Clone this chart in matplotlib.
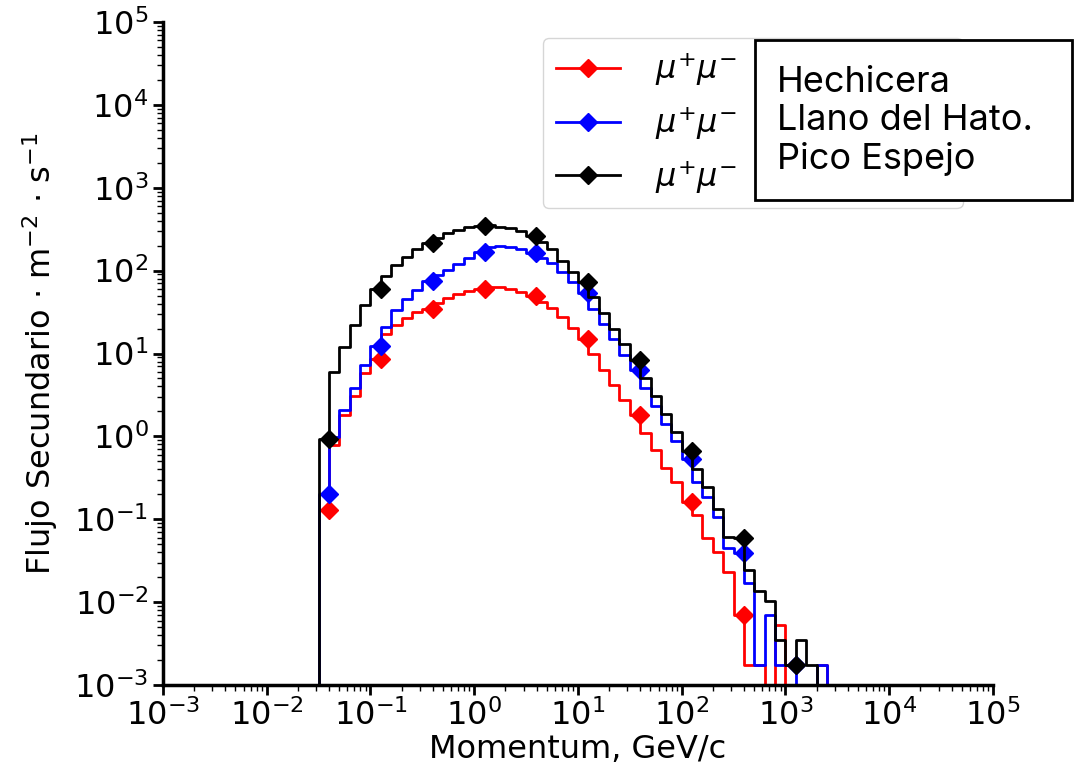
import matplotlib
matplotlib.use('Agg')
import matplotlib.pyplot as plt
import numpy as np

# momentum bin edges (GeV/c), 10 bins per decade starting at 10^-1.5
momentum = np.logspace(-1.5, 3.5, 51)

flux_hechicera = [0, 0.13, 0.79, 1.8, 3.07, 5.8, 8.6, 17.2, 22, 26.8,
                  31.7, 34.4, 40.4, 46.3, 52, 56.8, 60, 64, 63, 60.5,
                  55.7, 49.8, 42.2, 35, 27.8, 20.3, 14.8, 9.75, 6.4, 4.2,
                  2.76, 1.81, 1.11, 0.686, 0.42, 0.284, 0.16, 0.112, 0.059, 0.0405,
                  0.0233, 0.007, 0.00174, 0.00174, 0, 0.0053, 0, 0, 0, 0.00174,
                  0]
flux_llano = [0, 0.2, 0.99, 2.08, 3.87, 7.2, 12.3, 21, 33.5, 45,
              58, 75, 88.5, 102, 119, 141, 169, 191, 198, 194,
              181, 164, 141, 122, 97, 73, 53, 34.8, 22.7, 14.8,
              9.7, 6.3, 3.85, 2.35, 1.43, 0.87, 0.528, 0.284, 0.187, 0.107,
              0.0454, 0.039, 0.0169, 0.00174, 0.007, 0.00174, 0.00174, 0, 0, 0.00174,
              0]
flux_pico = [0, 0.92, 6.0, 11.9, 22, 38.5, 60, 87, 117, 147,
             181, 214, 245, 282, 309, 339, 350, 355, 339, 323,
             303, 262, 222, 182, 131, 97, 72, 48, 30.8, 19.8,
             13, 8.35, 5.06, 3.07, 1.86, 1.13, 0.665, 0.40, 0.247, 0.132,
             0.0605, 0.059, 0.0244, 0.0136, 0.0104, 0.00349, 0.00174, 0.00349, 0.00174, 0,
             0]

series = [
    (flux_hechicera, 'red', r'$\mu^{+}\mu^{-}$   Hechicera'),
    (flux_llano, 'blue', r'$\mu^{+}\mu^{-}$   Llano Hato'),
    (flux_pico, 'black', r'$\mu^{+}\mu^{-}$   Pico Espejo'),
]

fig = plt.figure(figsize=(10.75, 7.66), dpi=100)
ax = fig.add_axes([0.1516, 0.1057, 0.7721, 0.8656])

for values, color, label in series:
    ax.step(momentum, values, where='pre', color=color, lw=2,
            marker='D', markevery=(1, 5), ms=9, label=label)

ax.set_xscale('log')
ax.set_yscale('log')
ax.set_xlim(1e-3, 1e5)
ax.set_ylim(1e-3, 1e5)
ax.set_xticks([10.0 ** e for e in range(-3, 6)])
ax.set_yticks([10.0 ** e for e in range(-3, 6)])

for side in ['top', 'right']:
    ax.spines[side].set_visible(False)
for side in ['left', 'bottom']:
    ax.spines[side].set_linewidth(2.5)
ax.tick_params(which='major', labelsize=23, width=2, length=7)
ax.tick_params(which='minor', width=1, length=4)

ax.set_xlabel('Momentum, GeV/c', fontsize=23, labelpad=1)
ax.set_ylabel(r'Flujo Secundario $\cdot$ m$^{-2}$ $\cdot$ s$^{-1}$', fontsize=23, labelpad=10)

ax.legend(loc='upper left', bbox_to_anchor=(543 / 1075, 1 - 38 / 766),
          bbox_transform=fig.transFigure, fontsize=23, borderaxespad=0,
          handletextpad=1.1)

# white box pasted over the legend labels
box = plt.Rectangle((755 / 1075, 1 - 200 / 766), (1072 - 755) / 1075, 160 / 766,
                    transform=fig.transFigure, facecolor='white',
                    edgecolor='black', lw=2)
fig.patches.append(box)
fig.text(777 / 1075, 1 - 121 / 766, 'Hechicera\nLlano del Hato.\nPico Espejo',
         family='Inter', fontsize=26, va='center', ha='left', linespacing=1.2)

plt.savefig('out.png', dpi=100)
plt.close()
